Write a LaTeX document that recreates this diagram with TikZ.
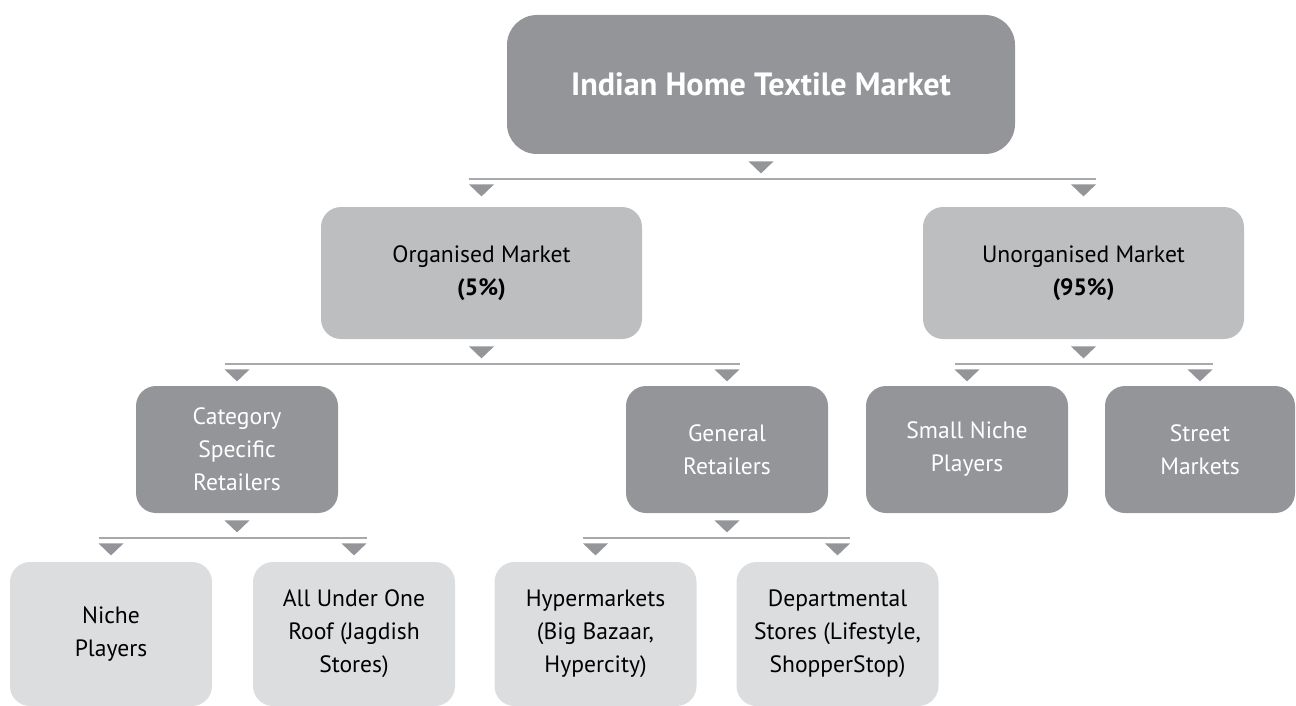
\documentclass[tikz,border=0pt]{standalone}
\usepackage{fontspec}
\setmainfont{PT Sans}
\usetikzlibrary{calc}
\definecolor{darkbox}{HTML}{939598}
\definecolor{midbox}{HTML}{BCBEC0}
\definecolor{lightbox}{HTML}{DCDDDE}
\definecolor{barcol}{HTML}{A7A9AC}
\begin{document}
\begin{tikzpicture}[x=0.5pt,y=-0.5pt,
  box/.style={rounded corners=10pt, inner sep=0pt, align=center, font=\fontsize{11.8}{16.5}\selectfont},
  dark/.style={box, fill=darkbox, text=white},
  mid/.style={box, fill=midbox, minimum width=160.5pt, minimum height=66pt},
  light/.style={box, fill=lightbox, minimum width=101pt, minimum height=72pt},
  small/.style={dark, minimum width=101pt, minimum height=63.5pt},
  tip/.style={fill=darkbox},
  bar/.style={draw=barcol, line width=1pt}]
\useasboundingbox (0,0) rectangle (1296,706);
\clip (0,0) rectangle (1296,706);
% level 0
\node[dark, minimum width=254pt, minimum height=69.5pt, rounded corners=15pt,
  font=\fontsize{16.1}{18}\selectfont\bfseries] (root) at (761,84.5) {Indian Home Textile Market};
% level 1
\node[mid] (org) at (481.5,273) {Organised Market\\\textbf{(5\%)}};
\node[mid] (unorg) at (1083.5,273) {Unorganised Market\\\textbf{(95\%)}};
% level 2
\node[small] (cat) at (237,449.5) {Category\\Specific\\Retailers};
\node[small] (gen) at (727,449.5) {General\\Retailers};
\node[small] (smallniche) at (967,449.5) {Small Niche\\Players};
\node[small, minimum width=95pt] (street) at (1200,449.5) {Street\\Markets};
% level 3
\node[light] (niche) at (111,634) {Niche\\Players};
\node[light] (allone) at (354,634) {All Under One\\Roof (Jagdish\\Stores)};
\node[light] (hyper) at (595.5,634) {Hypermarkets\\(Big Bazaar,\\Hypercity)};
\node[light] (dept) at (837.5,634) {Departmental\\Stores (Lifestyle,\\ShopperStop)};
% connectors
\foreach \p/\l/\r in {root/org/unorg, org/cat/gen, unorg/smallniche/street, cat/niche/allone, gen/hyper/dept}{
  \coordinate (b-\p) at ($(\p.south)+(0,25)$);
  \fill[tip] ($(\p.south)+(0,7)$) ++(-12.5,0) -- ++(25,0) -- ++(-12.5,12) -- cycle;
  \draw[bar] ($(\l.north |- b-\p)+(-12.5,0)$) -- ($(\r.north |- b-\p)+(12.5,0)$);
  \fill[tip] ($(\l.north |- b-\p)+(0,5)$) ++(-12.5,0) -- ++(25,0) -- ++(-12.5,12) -- cycle;
  \fill[tip] ($(\r.north |- b-\p)+(0,5)$) ++(-12.5,0) -- ++(25,0) -- ++(-12.5,12) -- cycle;
}
\end{tikzpicture}
\end{document}
